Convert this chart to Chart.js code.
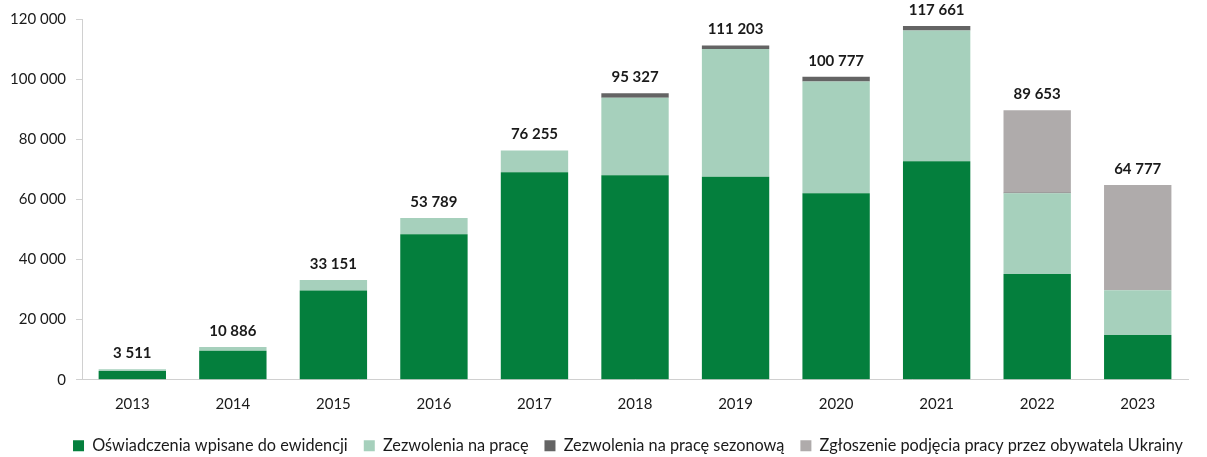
<!DOCTYPE html>
<html>
<head>
<meta charset="utf-8">
<script src="https://cdn.jsdelivr.net/npm/chart.js@4.4.1/dist/chart.umd.min.js"></script>
<style>
  html, body { margin: 0; padding: 0; background: #ffffff; overflow: hidden; }
  canvas { display: block; }
</style>
</head>
<body>
<canvas id="chart" width="1207" height="457"></canvas>
<script>
const years = ['2013','2014','2015','2016','2017','2018','2019','2020','2021','2022','2023'];
const oswiadczenia = [2900, 9600, 29700, 48400, 69000, 68000, 67500, 62000, 72700, 35200, 14900];
const zezwolenia   = [611, 1286, 3451, 5389, 7255, 25800, 42500, 37200, 43500, 26800, 14900];
const sezonowe     = [0, 0, 0, 0, 0, 1527, 1203, 1577, 1461, 300, 0];
const ukraina      = [0, 0, 0, 0, 0, 0, 0, 0, 0, 27353, 34977];
const totals       = [3511, 10886, 33151, 53789, 76255, 95327, 111203, 100777, 117661, 89653, 64777];
const yTicks       = [0, 20000, 40000, 60000, 80000, 100000, 120000];

const FONT = 'Lato, "Open Sans", sans-serif';
const fmt = v => String(v).replace(/\B(?=(\d{3})+(?!\d))/g, ' ');

// Sum of each column, written above the stack
const totalLabels = {
  id: 'totalLabels',
  afterDatasetsDraw(chart) {
    const { ctx, scales: { x, y } } = chart;
    ctx.save();
    ctx.font = 'bold 15px ' + FONT;
    ctx.fillStyle = '#1a1a1a';
    ctx.textAlign = 'center';
    ctx.textBaseline = 'middle';
    totals.forEach((t, i) => {
      ctx.fillText(fmt(t), x.getPixelForValue(i), y.getPixelForValue(t) - 16);
    });
    ctx.restore();
  }
};

// Centre the legend row on the page rather than on the padded layout box
const legendShift = {
  id: 'legendShift',
  afterLayout(chart) {
    const lg = chart.legend;
    if (!lg) return;
    const dx = 34, dy = -5;
    lg.left += dx;
    lg.right += dx;
    lg.top += dy;
    lg.bottom += dy;
    if (lg.legendHitBoxes) lg.legendHitBoxes.forEach(b => { b.left += dx; b.top += dy; });
  }
};

const ds = (label, data, color) => ({
  label, data,
  backgroundColor: color,
  borderWidth: 0,
  barPercentage: 0.67,
  categoryPercentage: 1.0
});

new Chart(document.getElementById('chart'), {
  type: 'bar',
  data: {
    labels: years,
    datasets: [
      ds('Oświadczenia wpisane do ewidencji', oswiadczenia, '#047f3d'),
      ds('Zezwolenia na pracę', zezwolenia, '#a6d0bc'),
      ds('Zezwolenia na pracę sezonową', sezonowe, '#646464'),
      ds('Zgłoszenie podjęcia pracy przez obywatela Ukrainy', ukraina, '#afabab')
    ]
  },
  options: {
    responsive: false,
    animation: false,
    devicePixelRatio: 1,
    layout: { padding: { left: 0, right: 19, top: 8, bottom: -12 } },
    scales: {
      x: {
        stacked: true,
        grid: { display: false, drawTicks: false },
        border: { color: '#d0d0d0', width: 1 },
        ticks: { color: '#1a1a1a', font: { family: FONT, size: 15 }, padding: 15, maxRotation: 0, autoSkip: false },
        afterFit: axis => { axis.height -= 1; }
      },
      y: {
        stacked: true,
        min: 0, max: 120000,
        afterBuildTicks: axis => { axis.ticks = yTicks.map(v => ({ value: v })); },
        grid: { display: true, drawOnChartArea: false, drawTicks: true, tickLength: 6, tickColor: '#d0d0d0' },
        border: { color: '#d0d0d0', width: 1 },
        ticks: { color: '#1a1a1a', font: { family: FONT, size: 15 }, padding: 10, callback: v => fmt(v) }
      }
    },
    plugins: {
      legend: {
        position: 'bottom',
        labels: { boxWidth: 11, boxHeight: 11, color: '#1a1a1a', font: { family: FONT, size: 16.3 }, padding: 16 }
      },
      tooltip: { enabled: false }
    }
  },
  plugins: [totalLabels, legendShift]
});
</script>
</body>
</html>
